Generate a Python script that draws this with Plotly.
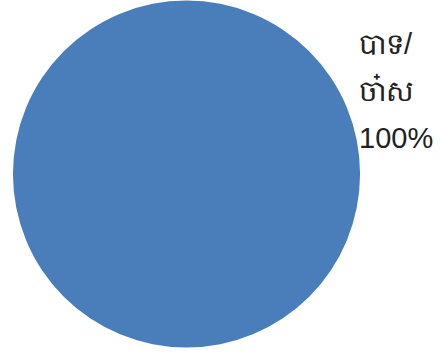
import plotly.graph_objects as go

labels = ["បាទ/ចា៎ស"]
values = [100]
label_lines = ["បាទ/", "ចា៎ស"]

W, H = 445, 353
fig = go.Figure()
fig.add_trace(go.Pie(
    labels=labels, values=values,
    marker=dict(colors=["#4a7ebb"], line=dict(width=0)),
    textinfo="none", sort=False, hoverinfo="label+percent",
    domain=dict(x=[13 / W, 360 / W], y=[1 - 348 / H, 1 - 0 / H]),
    showlegend=False,
))

total = sum(values)
pct = f"{round(values[0] / total * 100)}%"
lines = label_lines + [pct]
ys = [44, 90, 138]
for txt, yy in zip(lines, ys):
    fig.add_annotation(
        x=357 / W, y=1 - yy / H, xref="paper", yref="paper",
        xanchor="left", yanchor="middle", text=txt, showarrow=False,
        font=dict(family="Liberation Sans, Arial, sans-serif", size=29, color="#222222"),
    )

fig.update_layout(
    width=W, height=H, margin=dict(l=0, r=0, t=0, b=0),
    paper_bgcolor="white", plot_bgcolor="white",
)
fig.write_html(
    "out.html",
    config={"displayModeBar": False},
    post_script="document.body.style.margin='0';document.body.style.overflow='hidden';",
)
